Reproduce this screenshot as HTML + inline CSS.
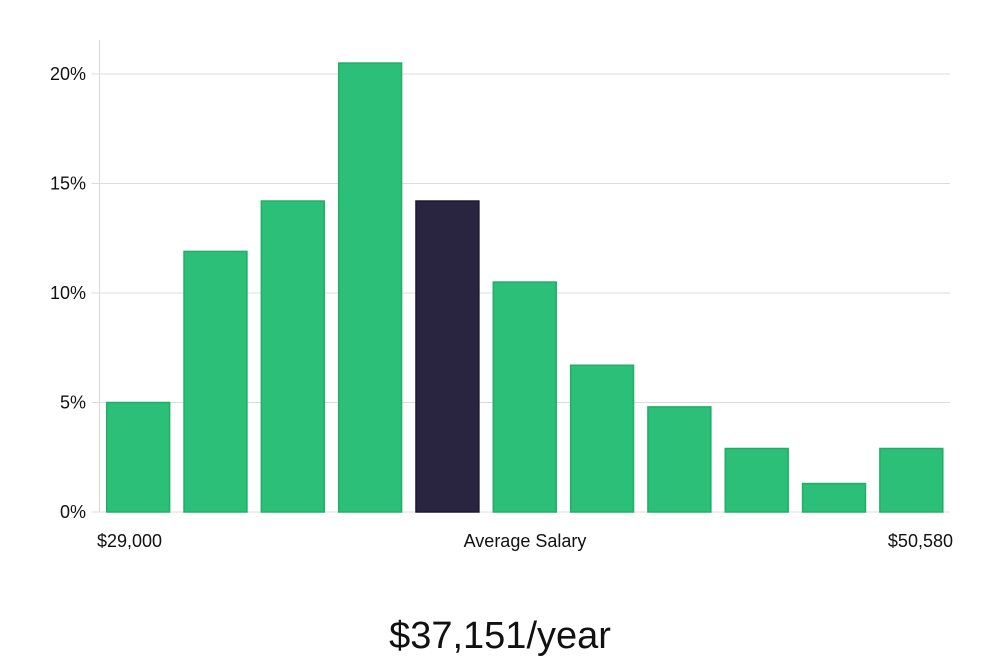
<!DOCTYPE html>
<html><head><meta charset="utf-8"><style>
body{margin:0;background:#fff;width:1000px;height:660px;overflow:hidden;font-family:"Liberation Sans","DejaVu Sans",sans-serif}
svg{display:block}
</style></head><body>
<svg width="1000" height="660" id="chart"></svg>
<script>
const categories=["b1","b2","b3","b4","b5","b6","b7","b8","b9","b10","b11"];
const values=[5.0,11.9,14.2,20.5,14.2,10.5,6.7,4.8,2.9,1.3,2.9];
const highlightIndex=4;
const yTicks=[0,5,10,15,20];
const yTickLabels=["0%","5%","10%","15%","20%"];
const xLabels=["$29,000","Average Salary","$50,580"];
const title="$37,151/year";

const NS="http://www.w3.org/2000/svg";
const svg=document.getElementById('chart');
const x0=99.5,x1=950,yBase=512,pxPer=21.9;
const y=v=>yBase-v*pxPer;
const step=(x1-x0)/categories.length, pad=7.2;
function mk(t,a,p){const e=document.createElementNS(NS,t);for(const k in a)e.setAttribute(k,a[k]);(p||svg).appendChild(e);return e;}
const axis=mk('line',{x1:x0,x2:x0,y1:40,y2:yBase,stroke:'#d8d8d8','stroke-width':1});


yTicks.forEach((t,i)=>{
  const g=mk('line',{x1:x0-8,x2:x1,y1:y(t),y2:y(t),stroke:'#dcdcdc','stroke-width':1});
  
  
  const l=mk('text',{x:86,y:y(t)+6,'text-anchor':'end','font-size':18,fill:'#111'});
  l.textContent=yTickLabels[i];
  
  
});
values.forEach((v,i)=>{
  const hi=i===highlightIndex;
  const r=mk('rect',{x:x0+i*step+pad,y:y(v),width:step-2*pad,height:v*pxPer,fill:hi?'#29243f':'#2bbf77',stroke:hi?'#1e1a30':'#22ad69','stroke-width':1.5});
  
  
});
const xl=[[97,'start'],[525,'middle'],[953,'end']];
xLabels.forEach((s,i)=>{
  const t=mk('text',{x:xl[i][0],y:547,'text-anchor':xl[i][1],'font-size':18,fill:'#111'});
  t.textContent=s;
  
  
});
const tt=mk('text',{x:500,y:648,'text-anchor':'middle','font-size':38,fill:'#111','font-weight':300});
tt.textContent=title;


</script>
</body></html>
